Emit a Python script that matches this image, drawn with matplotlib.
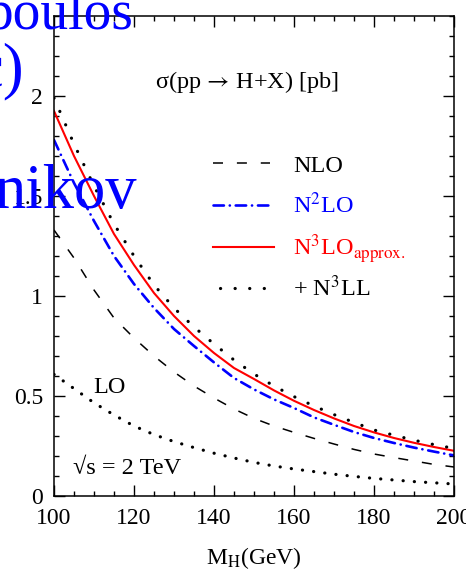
import matplotlib
matplotlib.use("Agg")
import matplotlib.pyplot as plt
from matplotlib.ticker import MultipleLocator, FuncFormatter

plt.rcParams['font.family'] = ['Liberation Serif', 'DejaVu Serif']
plt.rcParams['mathtext.fontset'] = 'stix'
plt.rcParams['lines.scale_dashes'] = False

# Higgs mass (GeV) and cross sections (pb)
mh = [100, 105, 110, 115, 120, 125, 130, 135, 140, 145, 150,
      155, 160, 165, 170, 175, 180, 185, 190, 195, 200]
lo = [0.608, 0.537, 0.466, 0.405, 0.350, 0.307, 0.272, 0.242, 0.214, 0.190, 0.168,
      0.150, 0.135, 0.122, 0.109, 0.098, 0.088, 0.080, 0.072, 0.066, 0.060]
nlo = [1.33, 1.19, 1.03, 0.89, 0.79, 0.70, 0.62, 0.55, 0.49, 0.435, 0.388,
       0.350, 0.318, 0.288, 0.260, 0.233, 0.210, 0.192, 0.175, 0.158, 0.145]
nnlo = [1.78, 1.565, 1.375, 1.20, 1.06, 0.94, 0.835, 0.75, 0.668, 0.59, 0.533,
        0.483, 0.44, 0.393, 0.356, 0.32, 0.29, 0.265, 0.242, 0.222, 0.203]
n3lo = [1.925, 1.70, 1.50, 1.31, 1.155, 1.015, 0.90, 0.80, 0.715, 0.64, 0.585,
        0.528, 0.476, 0.43, 0.388, 0.35, 0.318, 0.29, 0.266, 0.245, 0.226]
n3ll = [1.99, 1.76, 1.55, 1.36, 1.20, 1.055, 0.94, 0.845, 0.76, 0.68, 0.61,
        0.55, 0.497, 0.45, 0.407, 0.368, 0.33, 0.304, 0.279, 0.257, 0.238]

labels = [r'NLO', r'N$^2$LO', r'N$^3$LO$_{\mathrm{approx.}}$', r'+ N$^3$LL']
label_colors = ['black', 'blue', 'red', 'black']

W, H = 466, 571
fig = plt.figure(figsize=(W / 100, H / 100), dpi=100)
ax = fig.add_axes([54 / W, 1 - 496 / H, 400 / W, 480 / H])

styles = [
    dict(color='black', lw=1.1, dashes=(7.2, 10.0)),
    dict(color='blue', lw=1.9, dashes=(7.5, 4.2, 0.1, 4.2), dash_capstyle='round'),
    dict(color='red', lw=1.5),
    dict(color='black', lw=2.3, dashes=(0.1, 10.4), dash_capstyle='round'),
]

ax.plot(mh, lo, color='black', lw=2.3, dashes=(0.1, 8.0), dash_capstyle='round')
ax.plot(mh, nlo, **styles[0])
ax.plot(mh, nnlo, **styles[1])
ax.plot(mh, n3lo, **styles[2])
ax.plot(mh, n3ll, **styles[3])

ax.set_xlim(100, 200)
ax.set_ylim(0, 2.4)
ax.xaxis.set_major_locator(MultipleLocator(20))
ax.xaxis.set_minor_locator(MultipleLocator(5))
ax.yaxis.set_major_locator(MultipleLocator(0.5))
ax.yaxis.set_minor_locator(MultipleLocator(0.1))
ax.yaxis.set_major_formatter(FuncFormatter(lambda v, p: '{:g}'.format(v)))
ax.tick_params(which='both', direction='in', top=True, right=True, width=1.0)
ax.tick_params(which='major', length=8, labelsize=17)
ax.tick_params(axis='x', which='major', pad=9)
ax.tick_params(axis='y', which='major', pad=8)
ax.tick_params(which='minor', length=3.8)
for s in ax.spines.values():
    s.set_linewidth(1.1)

ax.set_xlabel(r'M$_{\mathrm{H}}$(GeV)', fontsize=17, labelpad=11)

# legend, drawn by hand so the rows keep an even spacing
row_y = [163, 205, 247, 288]
sample_x = [(213, 270), (213, 272), (213, 274), (220, 270)]
for lab, col, st, y, (x0, x1) in zip(labels, label_colors, styles, row_y, sample_x):
    ya = (496 - y) / 480
    ax.plot([(x0 - 54) / 400, (x1 - 54) / 400], [ya, ya], transform=ax.transAxes,
            clip_on=False, **st)
    ax.text((293 - 54) / 400, ya - 8.5 / 480, lab, color=col, fontsize=17.5,
            transform=ax.transAxes, ha='left', va='baseline')

ax.text(0.2525, 0.8625, r'σ(pp$\,\rightarrow\,$H+X) [pb]', transform=ax.transAxes,
        fontsize=17.5, va='center', ha='left')
ax.text(0.0975, 0.227, 'LO', transform=ax.transAxes, fontsize=17.5, va='center', ha='left')
ax.text(0.0475, 0.058, '√s = 2 TeV', transform=ax.transAxes, fontsize=17.5,
        va='center', ha='left')

# slide text lying over the figure
fig.text(133 / W, 1 - 29 / H, 'poulos', color='#0000ff', fontsize=40,
         ha='right', va='baseline', zorder=10)
fig.text(24 / W, 1 - 86 / H, 'c)', color='#0000ff', fontsize=45,
         ha='right', va='baseline', zorder=10)
fig.text(137 / W, 1 - 208 / H, 'nikov', color='#0000ff', fontsize=45,
         ha='right', va='baseline', zorder=10)

fig.savefig('out.png', dpi=100)
